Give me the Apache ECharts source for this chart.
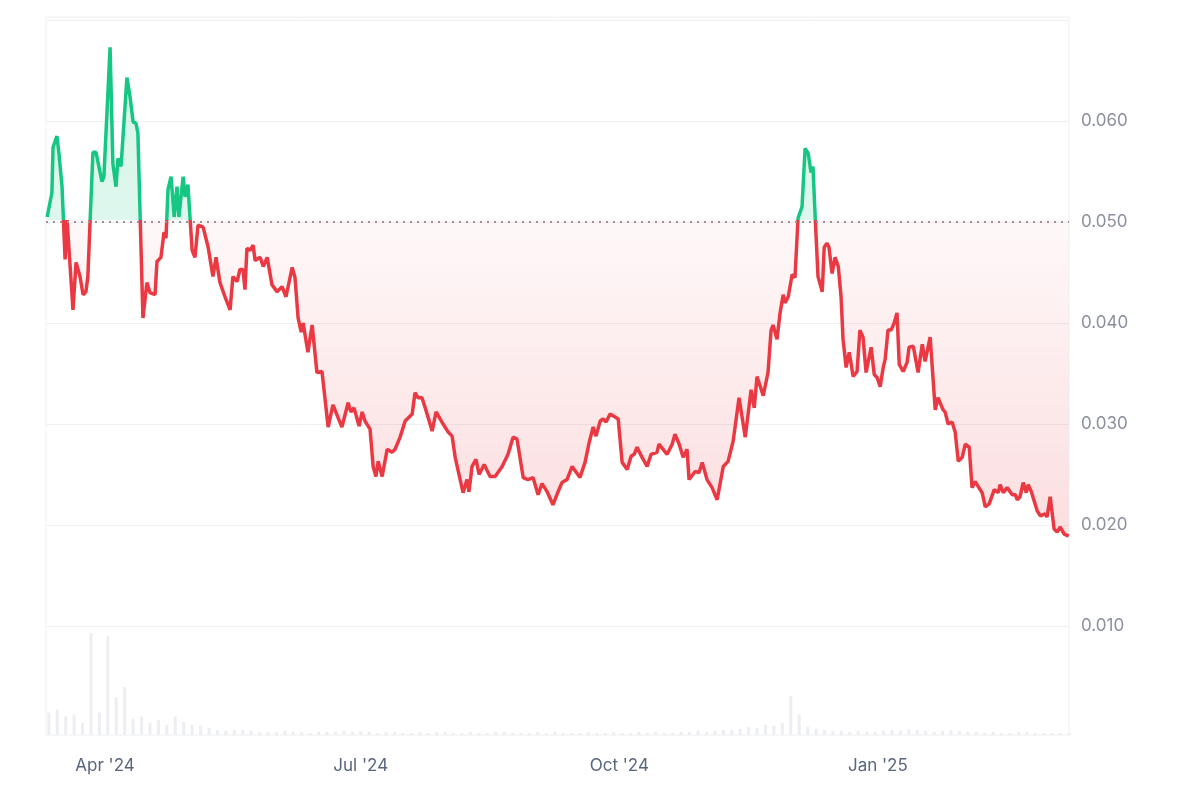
<!DOCTYPE html>
<html><head><meta charset="utf-8">
<script src="https://cdn.jsdelivr.net/npm/echarts@6/dist/echarts.min.js"></script>
<style>html,body{margin:0;padding:0;background:#fff}#c{width:1199px;height:797px}</style>
</head><body><div id="c"></div>
<script>
// day offsets from 2024-03-11 and prices
const dayOffsets = [0.4,2.1,2.5,3.9,4.6,5.7,6.8,7.5,9.6,10.7,12.1,13.2,14.2,14.9,15.7,16.7,17.8,19.9,20.6,22.8,23.8,24.9,25.6,26.7,28.8,29.9,31.0,32.0,32.7,33.5,34.5,35.9,37.0,38.8,39.5,40.9,42.0,42.7,43.4,44.5,45.6,46.6,47.3,48.8,49.5,50.5,51.3,52.0,53.0,54.1,55.9,57.7,59.4,60.5,61.9,63.7,65.5,66.5,68.0,69.0,70.1,70.8,71.5,72.6,73.7,74.4,76.2,77.3,78.7,80.4,82.2,84.0,85.4,87.6,88.6,89.7,90.8,91.5,93.2,94.7,96.4,98.2,100.4,102.1,105.3,107.5,108.5,109.6,111.4,112.5,113.5,115.3,116.4,117.4,118.2,119.6,121.4,123.1,124.2,126.0,127.8,130.3,131.3,132.4,133.8,135.6,137.4,138.8,139.5,141.3,143.1,144.5,145.6,148.4,149.8,150.5,151.6,153.0,154.1,155.9,158.0,159.8,162.3,164.4,166.2,167.6,169.8,171.5,173.3,175.1,176.5,178.3,180.4,182.2,183.6,185.4,187.2,190.0,191.8,193.3,194.7,195.7,197.2,198.2,199.3,200.7,202.5,203.6,205.0,206.8,208.2,209.3,210.3,212.1,213.9,215.3,217.4,218.1,221.0,222.8,223.8,225.3,226.7,228.1,228.8,231.0,232.4,233.5,235.2,237.0,238.8,241.0,242.7,244.5,246.6,248.8,250.9,252.0,253.0,255.2,256.9,258.0,258.7,260.1,261.2,262.3,263.0,264.1,265.5,266.5,267.6,269.0,270.1,271.2,272.2,272.9,273.7,274.7,276.2,276.9,277.9,278.6,279.7,280.8,281.9,282.9,283.6,284.7,285.8,287.2,288.6,289.6,290.7,291.8,292.5,293.6,294.7,295.7,296.8,297.9,298.6,299.6,300.7,301.8,302.8,303.6,305.0,306.4,307.1,308.6,310.3,311.8,312.8,314.6,316.4,317.4,319.2,319.9,321.0,322.4,323.5,324.6,326.0,327.1,328.5,329.5,330.6,333.1,334.2,335.6,337.4,338.8,339.5,340.6,342.0,343.8,344.9,345.6,346.6,347.7,348.8,349.5,350.6,352.7,353.8,355.5,356.2,357.3,358.7,359.8,360.9,362.3,363.9];
const prices = [0.0505,0.0529,0.0574,0.0585,0.0568,0.0535,0.0463,0.0502,0.0413,0.0460,0.0446,0.0428,0.0431,0.0446,0.0502,0.0569,0.0569,0.0540,0.0545,0.0673,0.0558,0.0535,0.0563,0.0555,0.0643,0.0624,0.0599,0.0598,0.0588,0.0505,0.0405,0.0440,0.0430,0.0428,0.0461,0.0465,0.0490,0.0484,0.0532,0.0545,0.0505,0.0535,0.0505,0.0545,0.0525,0.0537,0.0502,0.0472,0.0465,0.0497,0.0495,0.0475,0.0446,0.0465,0.0440,0.0426,0.0413,0.0446,0.0441,0.0453,0.0453,0.0433,0.0474,0.0472,0.0477,0.0462,0.0465,0.0456,0.0465,0.0438,0.0431,0.0436,0.0426,0.0455,0.0445,0.0405,0.0391,0.0400,0.0371,0.0398,0.0351,0.0352,0.0297,0.0319,0.0297,0.0321,0.0312,0.0316,0.0298,0.0312,0.0303,0.0295,0.0258,0.0248,0.0263,0.0248,0.0275,0.0272,0.0275,0.0287,0.0303,0.0310,0.0331,0.0326,0.0326,0.0310,0.0293,0.0312,0.0313,0.0300,0.0292,0.0288,0.0267,0.0232,0.0245,0.0233,0.0258,0.0265,0.0250,0.0260,0.0248,0.0248,0.0258,0.0270,0.0287,0.0285,0.0247,0.0245,0.0247,0.0230,0.0241,0.0233,0.0220,0.0233,0.0242,0.0245,0.0258,0.0247,0.0262,0.0282,0.0297,0.0288,0.0303,0.0305,0.0302,0.0310,0.0307,0.0305,0.0262,0.0255,0.0268,0.0270,0.0277,0.0267,0.0258,0.0270,0.0272,0.0280,0.0270,0.0280,0.0290,0.0280,0.0267,0.0275,0.0245,0.0253,0.0252,0.0262,0.0245,0.0237,0.0225,0.0258,0.0263,0.0283,0.0326,0.0287,0.0334,0.0316,0.0347,0.0328,0.0351,0.0393,0.0398,0.0384,0.0410,0.0428,0.0420,0.0426,0.0448,0.0445,0.0504,0.0515,0.0573,0.0568,0.0549,0.0555,0.0504,0.0446,0.0431,0.0475,0.0479,0.0475,0.0449,0.0465,0.0456,0.0426,0.0384,0.0356,0.0371,0.0347,0.0352,0.0393,0.0386,0.0351,0.0352,0.0376,0.0349,0.0346,0.0337,0.0356,0.0364,0.0393,0.0393,0.0400,0.0410,0.0359,0.0352,0.0361,0.0376,0.0377,0.0351,0.0379,0.0362,0.0386,0.0314,0.0326,0.0314,0.0312,0.0300,0.0302,0.0292,0.0263,0.0267,0.0280,0.0277,0.0237,0.0243,0.0232,0.0218,0.0221,0.0235,0.0232,0.0240,0.0232,0.0237,0.0230,0.0230,0.0225,0.0228,0.0242,0.0232,0.0240,0.0233,0.0214,0.0209,0.0211,0.0208,0.0228,0.0196,0.0193,0.0198,0.0191,0.0189,0.0176];
// volume, one value per 3 days (relative units)
const volumes = [22,25,18,20,12,100,22,97,37,47,16,18,12,15,10,18,13,10,9,7,5,4,5,5,4,3,3,3,4,3,3,2,3,3,3,4,3,4,3,2,3,3,2,2,3,2,3,3,2,2,3,2,2,3,3,2,2,2,3,2,3,2,2,2,3,2,2,3,2,2,3,2,3,2,2,3,3,4,3,4,5,5,6,8,7,10,9,12,38,20,8,6,5,4,4,3,4,3,3,4,5,4,6,5,4,3,4,5,4,3,3,2,3,2,2,3,3,2,2,2,2,2];
const xTickLabels = ["Apr '24","Jul '24","Oct '24","Jan '25"];
const xTickDates = [[2024,3,1],[2024,6,1],[2024,9,1],[2025,0,1]];
const baseline = 0.0502;

(function(){
const DAY = 86400000;
const start = Date.UTC(2024,2,11);
const lineData = dayOffsets.map((d,i)=>[d, prices[i]]);
const volData = volumes.map((v,i)=>[i*3+1, v]);
const tickVals = xTickDates.map(a=>Math.round((Date.UTC(a[0],a[1],a[2])-start)/DAY));

const gTop=17, priceBottom=727, yMax=0.0703;
const baseY = priceBottom - (baseline/yMax)*(priceBottom-gTop);
const fr = baseY/797;
const G='#16c784', R='#ea3943';
const lineGrad = new echarts.graphic.LinearGradient(0,0,0,797,[
  {offset:0,color:G},{offset:fr,color:G},{offset:fr,color:R},{offset:1,color:R}],true);
const areaGrad = new echarts.graphic.LinearGradient(0,0,0,797,[
  {offset:0,color:'rgba(22,199,132,0.25)'},{offset:fr,color:'rgba(22,199,132,0.2)'},
  {offset:fr,color:'rgba(234,57,67,0.05)'},{offset:560/797,color:'rgba(234,57,67,0.25)'},{offset:1,color:'rgba(234,57,67,0.3)'}],true);

const chart = echarts.init(document.getElementById('c'));
chart.setOption({
  animation:false,
  grid:[
    {left:46,right:130,top:gTop,bottom:797-735,show:true,borderColor:'#eef0f3',borderWidth:1},
    {left:46,right:130,top:gTop,bottom:797-priceBottom},
    {left:46,right:130,bottom:62,height:104}
  ],
  xAxis:[
    {type:'value',gridIndex:1,min:0,max:364,
     axisLine:{show:false},axisTick:{show:false},splitLine:{show:false},axisLabel:{show:false}},
    {type:'value',gridIndex:2,min:0,max:364,
     axisLine:{show:false},axisTick:{show:false},splitLine:{show:false},
     axisLabel:{customValues:tickVals,margin:22,color:'#58667e',fontSize:17,fontFamily:'Inter, Roboto, sans-serif',
       formatter:(v)=>{const i=tickVals.indexOf(v);return i>=0?xTickLabels[i]:'';}}},
    {type:'value',gridIndex:0,show:false,min:0,max:1}
  ],
  yAxis:[
    {type:'value',gridIndex:1,position:'right',min:0,max:yMax,interval:0.01,
     axisLine:{show:false},axisTick:{show:false},
     splitLine:{showMinLine:false,showMaxLine:false,lineStyle:{color:'#eef0f3',width:1}},
     axisLabel:{margin:12,color:'#8a909e',fontSize:17,fontFamily:'Inter, Roboto, sans-serif',showMaxLabel:false,
       formatter:(v)=>(v<0.005||v>0.065)?'':v.toFixed(3)}},
    {type:'value',gridIndex:2,min:0,max:102,show:false},
    {type:'value',gridIndex:0,show:false,min:0,max:1}
  ],
  series:[
    {type:'line',xAxisIndex:0,yAxisIndex:0,data:lineData,symbol:'none',smooth:false,clip:false,sampling:null,
     lineStyle:{color:lineGrad,width:3.5},
     areaStyle:{origin:baseline,color:areaGrad},
     markLine:{silent:true,symbol:'none',label:{show:false},
       lineStyle:{color:'#a09090',type:[2,5],width:2},data:[{yAxis:baseline}]}},
    {type:'bar',xAxisIndex:1,yAxisIndex:1,data:volData,barWidth:3,
     itemStyle:{color:'#eceef1'}}
  ]
});
})();
</script></body></html>
